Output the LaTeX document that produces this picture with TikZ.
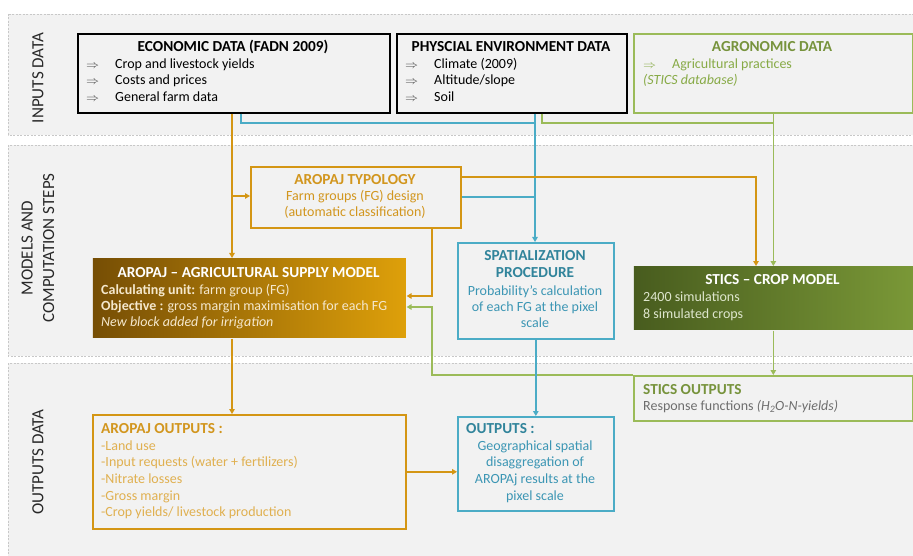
\documentclass[tikz,border=0pt]{standalone}
\usepackage{fontspec}
\setmainfont{Carlito}
\usetikzlibrary{arrows.meta}
\definecolor{bandfill}{RGB}{242,242,242}
\definecolor{bandline}{RGB}{200,200,200}
\definecolor{orl}{RGB}{212,150,20}
\definecolor{ort}{RGB}{210,150,30}
\definecolor{orx}{RGB}{224,176,80}
\definecolor{bll}{RGB}{75,172,198}
\definecolor{blt}{RGB}{49,132,155}
\definecolor{blx}{RGB}{60,150,180}
\definecolor{grl}{RGB}{155,187,89}
\definecolor{grt}{RGB}{119,147,60}
\definecolor{grx}{RGB}{135,170,70}
\definecolor{txtgray}{RGB}{110,110,110}
\definecolor{arrgray}{RGB}{70,70,70}
\definecolor{modL}{RGB}{118,78,5}
\definecolor{modR}{RGB}{222,160,10}
\definecolor{modx}{RGB}{245,232,205}
\definecolor{stL}{RGB}{72,92,30}
\definecolor{stR}{RGB}{122,152,55}
\definecolor{stx}{RGB}{222,230,205}
\definecolor{side}{RGB}{40,40,40}
\newcommand{\ttl}[1]{{\fontsize{15.3}{16.7}\selectfont\bfseries #1}}
\newcommand{\rar}{\smash{\scalebox{0.9}[0.8]{$\Rightarrow$}}}
\begin{document}
\begin{tikzpicture}[x=1pt,y=-1pt, font=\fontsize{14}{16.7}\selectfont,
  band/.style={draw=bandline, fill=bandfill, dash pattern=on 2pt off 1.5pt, line width=0.6pt},
  box/.style={line width=1.6pt, anchor=north west, inner sep=0pt},
  txt/.style={anchor=base west, inner sep=0pt},
  ctxt/.style={anchor=base, inner sep=0pt},
  sidelab/.style={rotate=90, font=\fontsize{17}{21.5}\selectfont, text=side, align=center, inner sep=0pt},
  conn/.style={line width=1.6pt},
  arr/.style={-{Triangle[length=5pt,width=5.5pt]}},
]
\useasboundingbox (0,0) rectangle (913,556);
% bands
\path[band] (8,14) rectangle (914,135);
\path[band] (8,145) rectangle (914,356);
\path[band] (8,363) rectangle (914,560);

% side labels
\node[sidelab] (sl1) at (38,78) {INPUTS DATA};
\node[sidelab] (sl2) at (38,248) {MODELS AND\\COMPUTATION STEPS};
\node[sidelab] (sl3) at (38,462) {OUTPUTS DATA};

% boxes
\node[box, draw=black, minimum width=312, minimum height=79] (eco) at (77,33) {};
\node[box, draw=black, minimum width=230, minimum height=79] (phys) at (396,33) {};
\node[box, draw=grl, minimum width=279, minimum height=79] (agro) at (633,33) {};
\node[box, draw=orl, minimum width=210, minimum height=61] (typo) at (250,166) {};
\node[box, draw=none, left color=modL, right color=modR, minimum width=313, minimum height=79] (model) at (92,258) {};
\node[box, draw=bll, minimum width=156, minimum height=96] (spat) at (457,242) {};
\node[box, draw=none, left color=stL, right color=stR, minimum width=279, minimum height=63] (stics) at (633,266) {};
\node[box, draw=grl, minimum width=279, minimum height=45] (sout) at (633,375) {};
\node[box, draw=orl, minimum width=313, minimum height=114] (aout) at (92,414) {};
\node[box, draw=bll, minimum width=156, minimum height=94] (outs) at (457,416) {};

% economic data
\node[ctxt] (ecoT) at (233,52) {\ttl{ECONOMIC DATA (FADN 2009)}};
\node[txt, text=arrgray] (ea1) at (86,68.5) {\rar};
\node[txt] (e1) at (115,68.5) {Crop and livestock yields};
\node[txt, text=arrgray] (ea2) at (86,85) {\rar};
\node[txt] (e2) at (115,85) {Costs and prices};
\node[txt, text=arrgray] (ea3) at (86,101.5) {\rar};
\node[txt] (e3) at (115,101.5) {General farm data};

% physical data
\node[ctxt] (phT) at (511,52) {\ttl{PHYSCIAL ENVIRONMENT DATA}};
\node[txt, text=arrgray] (pa1) at (405,68.5) {\rar};
\node[txt] (p1) at (434,68.5) {Climate (2009)};
\node[txt, text=arrgray] (pa2) at (405,85) {\rar};
\node[txt] (p2) at (434,85) {Altitude/slope};
\node[txt, text=arrgray] (pa3) at (405,101.5) {\rar};
\node[txt] (p3) at (434,101.5) {Soil};

% agronomic data
\node[ctxt, text=grt] (agT) at (772,52) {\ttl{AGRONOMIC DATA}};
\node[txt, text=grx] (aa1) at (643,68.5) {\rar};
\node[txt, text=grx] (ag1) at (672,68.5) {Agricultural practices};
\node[txt, text=grx] (ag2) at (643,85) {\textit{(STICS database)}};

% typology
\node[ctxt, text=ort] (tyT) at (355,184.5) {\ttl{AROPAJ TYPOLOGY}};
\node[ctxt, text=ort] (ty1) at (355,200.7) {Farm groups (FG) design};
\node[ctxt, text=ort] (ty2) at (355,217) {(automatic classification)};

% model
\node[ctxt, text=white] (moT) at (248.5,277) {\ttl{AROPAJ -- AGRICULTURAL SUPPLY MODEL}};
\node[txt, text=modx] (mo1) at (101,294) {\textbf{Calculating unit:} farm group (FG)};
\node[txt, text=modx] (mo2) at (101,310.7) {\textbf{Objective :} gross margin maximisation for each FG};
\node[txt, text=modx] (mo3) at (101,326.7) {\textit{New block added for irrigation}};

% spatialization
\node[ctxt, text=blt] (spT1) at (535,260) {\ttl{SPATIALIZATION}};
\node[ctxt, text=blt] (spT2) at (535,277.7) {\ttl{PROCEDURE}};
\node[ctxt, text=blx] (sp1) at (535,295) {Probability’s calculation};
\node[ctxt, text=blx] (sp2) at (535,311.7) {of each FG at the pixel};
\node[ctxt, text=blx] (sp3) at (535,327.7) {scale};

% stics
\node[ctxt, text=white] (stT) at (772.5,284) {\ttl{STICS -- CROP MODEL}};
\node[txt, text=stx] (st1) at (643,301.3) {2400 simulations};
\node[txt, text=stx] (st2) at (643,318.3) {8 simulated crops};

% stics outputs
\node[txt, text=grt] (soT) at (643,394) {\ttl{STICS OUTPUTS}};
\node[txt, text=txtgray] (so1) at (643,410.7) {Response functions \textit{(H\textsubscript{2}O-N-yields)}};

% aropaj outputs
\node[txt, text=ort] (aoT) at (101,433.3) {\ttl{AROPAJ OUTPUTS :}};
\node[txt, text=orx] (ao1) at (101,450) {-Land use};
\node[txt, text=orx] (ao2) at (101,466.7) {-Input requests (water + fertilizers)};
\node[txt, text=orx] (ao3) at (101,483.3) {-Nitrate losses};
\node[txt, text=orx] (ao4) at (101,500) {-Gross margin};
\node[txt, text=orx] (ao5) at (101,516.7) {-Crop yields/ livestock production};

% outputs
\node[txt, text=blt] (ouT) at (466,433.3) {\ttl{OUTPUTS :}};
\node[ctxt, text=blx] (ou1) at (535,450) {Geographical spatial};
\node[ctxt, text=blx] (ou2) at (535,466.7) {disaggregation of};
\node[ctxt, text=blx] (ou3) at (535,483.3) {AROPAj results at the};
\node[ctxt, text=blx] (ou4) at (535,500) {pixel scale};

% junction coordinates
\coordinate (jA) at (232,196);
\coordinate (bX) at (241,123);
\coordinate (bJ) at (535,123);
\coordinate (gX) at (542,123);
\coordinate (oT) at (756,177);
\coordinate (oB) at (432,296);
\coordinate (gB) at (432,307);

% connectors
\draw[conn, orl, arr] (eco.south -| jA) -- (model.north -| jA);
\draw[conn, orl, arr] (jA) -- (typo.west |- jA);
\draw[conn, bll] (eco.south -| bX) -- (bX) -- (bJ);
\draw[conn, bll, arr] (phys.south -| bJ) -- (spat.north -| bJ);
\draw[conn, bll] (typo.east) -- (typo.east -| bJ);
\draw[conn, grl] (phys.south -| gX) -- (gX) -- (gX -| agro.south);
\draw[conn, grl, arr] (agro.south) -- (stics.north);
\draw[conn, orl, arr] (typo.east |- oT) -| (stics.north -| oT);
\draw[conn, orl, arr] (typo.south -| oB) -- (oB) -- (model.east |- oB);
\draw[conn, grl, arr] (sout.north west) -| (gB) -- (model.east |- gB);
\draw[conn, grl, arr] (stics.south) -- (sout.north);
\draw[conn, bll, arr] (spat.south) -- (outs.north);
\draw[conn, orl, arr] (model.south -| jA) -- (aout.north -| jA);
\draw[conn, orl, arr] (aout.east) -- (aout.east -| outs.west);
\end{tikzpicture}
\end{document}
